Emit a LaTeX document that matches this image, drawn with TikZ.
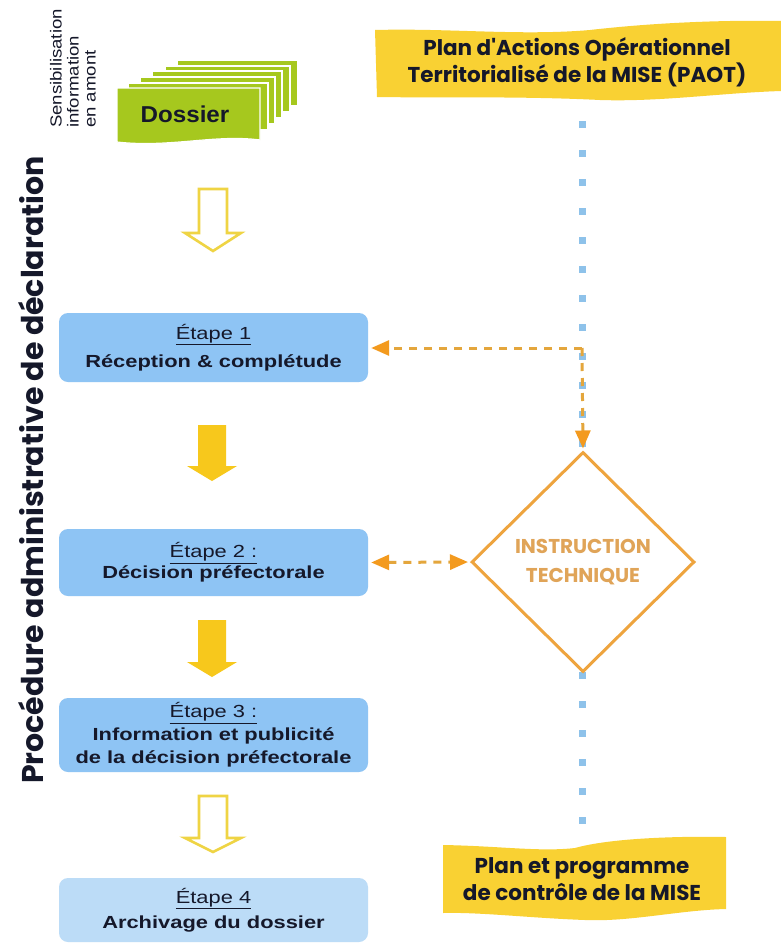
\documentclass[tikz,border=0pt]{standalone}
\usepackage{fontspec}
\setmainfont{Liberation Sans}
\newfontfamily\gothic{Poppins}
\newfontfamily\boxfont{Liberation Sans}[FakeStretch=1.25]
\newfontfamily\sensfont{Liberation Sans}[FakeStretch=1.16]
\newfontfamily\dosfont{Liberation Sans}[FakeStretch=1.05]
\usetikzlibrary{shapes.geometric,arrows.meta}
\definecolor{lime}{HTML}{A6C81E}
\definecolor{stepblue}{HTML}{8EC4F4}
\definecolor{steplight}{HTML}{BCDCF7}
\definecolor{banner}{HTML}{F9D133}
\definecolor{arrowyel}{HTML}{F7C81C}
\definecolor{openyel}{HTML}{EFD444}
\definecolor{dotblue}{HTML}{8EC2EA}
\definecolor{orng}{HTML}{F39A1E}
\definecolor{dashcol}{HTML}{E4A63C}
\definecolor{diamcol}{HTML}{EEA43E}
\definecolor{instr}{HTML}{E0A458}
\definecolor{inktext}{HTML}{15182A}
\newcommand\blockarr[7]{% style, cx, ytop, ybase, ytip, shaft half, head half
  \draw[#1] (#2-#6,#3) -- (#2+#6,#3) -- (#2+#6,#4) -- (#2+#7,#4) -- (#2,#5)
    -- (#2-#7,#4) -- (#2-#6,#4) -- cycle;}
\begin{document}
\begin{tikzpicture}[x=1pt,y=-1pt,
  stepbox/.style={rounded corners=9pt, minimum width=309pt, inner sep=0pt,
    draw=none, align=center, text=inktext},
  openarr/.style={draw=openyel, line width=2.6pt, fill=white, line join=miter},
  fillarr/.style={fill=arrowyel, draw=none},
  bannerbg/.style={fill=banner, draw=none},
  bannertext/.style={align=center, text=inktext,
    font=\gothic\bfseries\fontsize{21.5}{27}\selectfont},
  dotline/.style={draw=dotblue, line width=7pt, dash pattern=on 7pt off 22pt},
  odash/.style={draw=dashcol, line width=3pt, dash pattern=on 8pt off 7pt},
  layer/.style={fill=lime, draw=white, line width=1.2pt}]
\useasboundingbox (0,0) rectangle (781,945);
\fill[white] (0,0) rectangle (781,945);

% side title
\node[rotate=90, text=inktext, font=\gothic\bfseries\fontsize{30}{32}\selectfont]
  (title) at (31,470) {Procédure administrative de déclaration};

% sensibilisation text
\node[rotate=90, anchor=west, align=left, inner sep=0pt, text=inktext,
  font=\sensfont\fontsize{16}{17}\selectfont]
  (sens) at (73,128) {Sensibilisation\\information\\en amont};

% dossier stack
\foreach \l/\t/\r/\b in {177/60/298/106, 165/66/290/112, 152/71/282/118,
                         140/77/275/124, 128/83/268/130}
  \filldraw[layer] (\l,\t) rectangle (\r,\b);
\filldraw[layer] (117,88) -- (260,88) -- (260,140)
  .. controls (215,134) and (170,148) .. (117,142) -- cycle;
\node[text=inktext, font=\dosfont\bfseries\fontsize{23}{24}\selectfont]
  (dossier) at (185,114) {Dossier};

% step boxes
\node[stepbox, fill=stepblue, minimum height=69pt,
  font=\boxfont\fontsize{17.5}{24}\selectfont] (e1) at (213.5,347.5)
  {\underline{Étape 1}\\[4pt]\textbf{Réception \& complétude}};
\node[stepbox, fill=stepblue, minimum height=67pt,
  font=\boxfont\fontsize{17.5}{24}\selectfont] (e2) at (213.5,562.5)
  {\underline{Étape 2 :}\\[-3pt]\textbf{Décision préfectorale}};
\node[stepbox, fill=stepblue, minimum height=74pt,
  font=\boxfont\fontsize{17.5}{23}\selectfont] (e3) at (213.5,735)
  {\underline{Étape 3 :}\\\textbf{Information et publicité}\\\textbf{de la décision préfectorale}};
\node[stepbox, fill=steplight, minimum height=64pt,
  font=\boxfont\fontsize{17.5}{25}\selectfont] (e4) at (213.5,910)
  {\underline{Étape 4}\\\textbf{Archivage du dossier}};

% block arrows between steps
\blockarr{openarr}{213}{189}{233}{251}{14}{28}
\blockarr{fillarr}{212}{425}{466}{481}{14}{25}
\blockarr{fillarr}{212}{620}{662}{677}{14}{25}
\blockarr{openarr}{213}{796}{838}{852}{14}{28}

% blue dotted line
\coordinate (dtop) at (582,121);
\coordinate (dbot) at (582,835);
\draw[dotline] (dtop) -- (dbot);

% banners
\fill[bannerbg] (375,30) .. controls (450,28) and (520,36) .. (590,30)
  .. controls (660,22) and (730,20) .. (781,21) -- (781,91)
  .. controls (720,93) and (660,102) .. (600,100)
  .. controls (520,96) and (440,98) .. (377,97) -- cycle;
\node[bannertext] (paot) at (577,62)
  {Plan d'Actions Opérationnel\\Territorialisé de la MISE (PAOT)};
\fill[bannerbg] (443,845) .. controls (500,846) and (540,852) .. (575,848)
  .. controls (610,838) and (680,836) .. (726,837) -- (726,909)
  .. controls (680,910) and (630,922) .. (585,920)
  .. controls (530,918) and (480,912) .. (443,913) -- cycle;
\node[bannertext] (ctrl) at (582,879)
  {Plan et programme\\de contrôle de la MISE};

% instruction technique diamond
\node[diamond, aspect=1, draw=diamcol, line width=3pt, fill=white,
  minimum width=223pt, minimum height=220pt, inner sep=0pt,
  align=center, text=instr, font=\gothic\bfseries\fontsize{20}{29}\selectfont]
  (instr) at (583,562) {INSTRUCTION\\TECHNIQUE};

% orange dashed connectors
\coordinate (junc) at (582,348);
\draw[odash, -{Triangle[length=18pt,width=15pt,color=orng]}, shorten >=3pt]
  (junc) -- (e1.east |- junc);
\draw[odash, -{Triangle[length=18pt,width=15pt,color=orng]}, shorten >=2pt]
  (junc) -- (instr.north);
\draw[odash, {Triangle[length=18pt,width=15pt,color=orng]}-{Triangle[length=18pt,width=15pt,color=orng]},
  shorten <=3pt, shorten >=2pt] (e2.east) -- (instr.west);
\end{tikzpicture}
\end{document}
